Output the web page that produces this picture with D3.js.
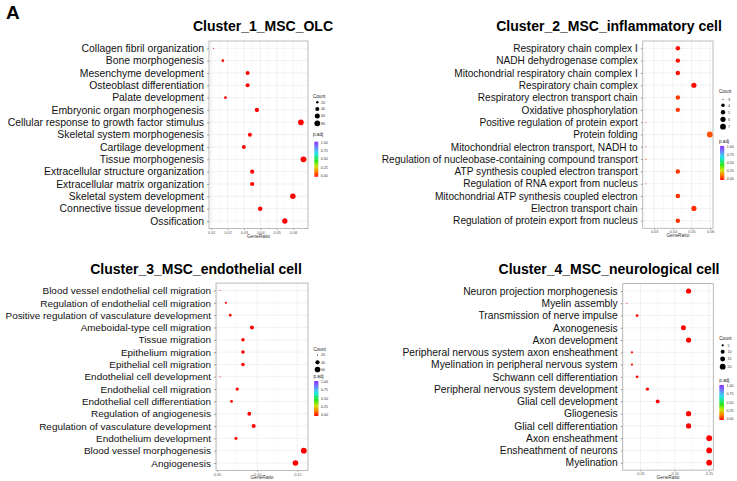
<!DOCTYPE html>
<html><head><meta charset="utf-8">
<script src="https://cdn.jsdelivr.net/npm/d3@7"></script>
<style>
body{margin:0;background:#fff;}
svg{display:block;font-family:"Liberation Sans",Arial,sans-serif;}
</style></head>
<body><svg id="chart" width="737" height="481"></svg>
<script>
// ---------- DATA ----------
const c1Terms = ["Collagen fibril organization","Bone morphogenesis","Mesenchyme development","Osteoblast differentiation","Palate development","Embryonic organ morphogenesis","Cellular response to growth factor stimulus","Skeletal system morphogenesis","Cartilage development","Tissue morphogenesis","Extracellular structure organization","Extracellular matrix organization","Skeletal system development","Connective tissue development","Ossification"];
const c1Ratio = [0.0114,0.0171,0.0322,0.0322,0.0187,0.0379,0.0647,0.0336,0.0299,0.0663,0.0350,0.0350,0.0598,0.0399,0.0549];
const c1Count = [14,21,39,39,22,45,78,40,36,80,42,42,72,48,66];
const c1Padj  = [0.01,0.005,0,0,0.01,0,0,0,0,0,0,0,0,0,0];
const c1Ticks = [0.01,0.02,0.03,0.04,0.05,0.06];
const c1CountBreaks = [20,40,60,80];

const c2Terms = ["Respiratory chain complex I","NADH dehydrogenase complex","Mitochondrial respiratory chain complex I","Respiratory chain complex","Respiratory electron transport chain","Oxidative phosphorylation","Positive regulation of protein export","Protein folding","Mitochondrial electron transport, NADH to","Regulation of nucleobase-containing compound transport","ATP synthesis coupled electron transport","Regulation of RNA export from nucleus","Mitochondrial ATP synthesis coupled electron","Electron transport chain","Regulation of protein export from nucleus"];
const c2Ratio = [0.0427,0.0427,0.0427,0.0513,0.0427,0.0427,0.0256,0.0598,0.0256,0.0256,0.0427,0.0256,0.0427,0.0513,0.0427];
const c2Count = [5,5,5,6,5,5,3,7,3,3,5,3,5,6,5];
const c2Padj  = [0.015,0.015,0.015,0.01,0.06,0.06,0.09,0.09,0.09,0.09,0.055,0.09,0.055,0.05,0.055];
const c2Ticks = [0.03,0.04,0.05,0.06];
const c2CountBreaks = [3,4,5,6,7];

const c3Terms = ["Blood vessel endothelial cell migration","Regulation of endothelial cell migration","Positive regulation of vasculature development","Ameboidal-type cell migration","Tissue migration","Epithelium migration","Epithelial cell migration","Endothelial cell development","Endothelial cell migration","Endothelial cell differentiation","Regulation of angiogenesis","Regulation of vasculature development","Endothelium development","Blood vessel morphogenesis","Angiogenesis"];
const c3Ratio = [0.054,0.0611,0.0665,0.0935,0.0823,0.0823,0.0823,0.054,0.0752,0.0681,0.0902,0.0956,0.0736,0.158,0.1476];
const c3Count = [22,24,27,37,33,33,33,22,30,27,36,38,29,63,59];
const c3Padj  = [0.03,0.01,0.01,0,0,0,0,0.03,0,0.01,0,0,0.01,0,0];
const c3Ticks = [0.05,0.10,0.15];
const c3CountBreaks = [20,40,60];

const c4Terms = ["Neuron projection morphogenesis","Myelin assembly","Transmission of nerve impulse","Axonogenesis","Axon development","Peripheral nervous system axon ensheathment","Myelination in peripheral nervous system","Schwann cell differentiation","Peripheral nervous system development","Glial cell development","Gliogenesis","Glial cell differentiation","Axon ensheathment","Ensheathment of neurons","Myelination"];
const c4Ratio = [0.1203,0.0301,0.0451,0.1128,0.1203,0.0376,0.0376,0.0451,0.0602,0.0752,0.1203,0.1203,0.1504,0.1504,0.1504];
const c4Count = [16,4,6,15,16,5,5,6,8,10,16,16,20,20,20];
const c4Padj  = [0,0.02,0.01,0,0,0.01,0.01,0.01,0,0,0,0,0,0,0];
const c4Ticks = [0.05,0.10,0.15];
const c4CountBreaks = [5,10,15,20];

const padjTicks = [0,0.25,0.5,0.75,1];

// ---------- LAYOUT ----------
const panels = [
  {title:"Cluster_1_MSC_OLC", tx:263, ty:31, fs:10.4, terms:c1Terms, ratio:c1Ratio, count:c1Count, padj:c1Padj, ticks:c1Ticks, breaks:c1CountBreaks,
   x0:209, x1:308, y0:48.3, y1:221, top:41, bot:228.6,
   leg:{x:313, ct:96, ey:[102.3,109,116,123.3], dx:317.3, lx:321, pt:134, bx:314.3, bw:4, by0:141.7, by1:176.7}},
  {title:"Cluster_2_MSC_inflammatory cell", tx:609, ty:31, fs:10.1, terms:c2Terms, ratio:c2Ratio, count:c2Count, padj:c2Padj, ticks:c2Ticks, breaks:c2CountBreaks,
   x0:642.7, x1:713, y0:48.3, y1:220.7, top:41, bot:228.3,
   leg:{x:719, ct:91, ey:[99.3,105.3,112.3,119.3,126.7], dx:723, lx:728, pt:141, bx:720, bw:4.3, by0:146, by1:180}},
  {title:"Cluster_3_MSC_endothelial cell", tx:196, ty:274, fs:9.95, terms:c3Terms, ratio:c3Ratio, count:c3Count, padj:c3Padj, ticks:c3Ticks, breaks:c3CountBreaks,
   x0:216, x1:308, y0:290.5, y1:463, top:283.1, bot:470.4,
   leg:{x:313.5, ct:349, ey:[355,362.3,369.5], dx:317.5, lx:321, pt:376, bx:314, bw:4.5, by0:381, by1:416}},
  {title:"Cluster_4_MSC_neurological cell", tx:609, ty:274, fs:10.3, terms:c4Terms, ratio:c4Ratio, count:c4Count, padj:c4Padj, ticks:c4Ticks, breaks:c4CountBreaks,
   x0:622.7, x1:713.3, y0:291, y1:462.7, top:283.6, bot:470.1,
   leg:{x:719.3, ct:338.3, ey:[345.3,351.7,359,366.7], dx:722.7, lx:727.5, pt:380, bx:719.3, bw:4.7, by0:385, by1:420}}
];

const svg = d3.select("#chart");
svg.append("rect").attr("width",737).attr("height",481).attr("fill","#fff");

// colour scale for p.adj
const colStops = [[0,"#FF0000"],[0.14,"#FF8000"],[0.3,"#C8E600"],[0.46,"#22E622"],[0.66,"#22E6E6"],[0.83,"#6E8CFF"],[1,"#8A2BFF"]];
const color = d3.scaleLinear().domain(colStops.map(d=>d[0])).range(colStops.map(d=>d[1])).interpolate(d3.interpolateRgb).clamp(true);

const defs = svg.append("defs");
const grad = defs.append("linearGradient").attr("id","padjGrad").attr("x1",0).attr("y1",1).attr("x2",0).attr("y2",0);
colStops.forEach(s=>grad.append("stop").attr("offset",s[0]).attr("stop-color",s[1]));

// "A"
svg.append("text").attr("x",6).attr("y",19).attr("font-size",19).attr("font-weight","bold").text("A");

panels.forEach(p=>{
  const g = svg.append("g");
  const mn = d3.min(p.ratio), mx = d3.max(p.ratio), ex = (mx-mn)*0.05;
  const x = d3.scaleLinear().domain([mn-ex, mx+ex]).range([p.x0, p.x1]);
  const y = d3.scalePoint().domain(p.terms).range([p.y0, p.y1]);
  const cmn = d3.min(p.count), cmx = d3.max(p.count);
  const rmin = 0.55, rmax = 2.9;
  const r = c => rmin + (rmax-rmin)*Math.sqrt(Math.max(0,(c-cmn))/(cmx-cmn));

  // panel background
  g.append("rect").attr("x",p.x0).attr("y",p.top).attr("width",p.x1-p.x0).attr("height",p.bot-p.top).attr("fill","#fff");
  // minor grid
  const step = p.ticks[1]-p.ticks[0];
  const minor = [];
  for (let v = p.ticks[0]-step/2; v <= p.ticks[p.ticks.length-1]+step/2+1e-9; v += step) minor.push(v);
  g.selectAll(".mng").data(minor.filter(v=>x(v)>p.x0 && x(v)<p.x1)).join("line")
    .attr("x1",d=>x(d)).attr("x2",d=>x(d)).attr("y1",p.top).attr("y2",p.bot)
    .attr("stroke","#f2f2f2").attr("stroke-width",0.5);
  // major grid
  g.selectAll(".mjg").data(p.ticks).join("line")
    .attr("x1",d=>x(d)).attr("x2",d=>x(d)).attr("y1",p.top).attr("y2",p.bot)
    .attr("stroke","#e8e8e8").attr("stroke-width",0.6);
  g.selectAll(".hg").data(p.terms).join("line")
    .attr("x1",p.x0).attr("x2",p.x1).attr("y1",d=>y(d)).attr("y2",d=>y(d))
    .attr("stroke","#e8e8e8").attr("stroke-width",0.6);

  // axes
  const ax = g.append("g").attr("transform",`translate(0,${p.bot})`)
    .call(d3.axisBottom(x).tickValues(p.ticks).tickSize(1.5).tickPadding(1).tickFormat(d3.format(".2f")));
  ax.select(".domain").remove();
  ax.selectAll("line").attr("stroke","#555").attr("stroke-width",0.5);
  ax.selectAll("text").attr("font-size",3.8).attr("fill","#555").attr("font-family","Liberation Sans, Arial, sans-serif");

  const ay = g.append("g").attr("transform",`translate(${p.x0},0)`)
    .call(d3.axisLeft(y).tickSize(1.8).tickPadding(3.2));
  ay.select(".domain").remove();
  ay.selectAll("line").attr("stroke","#444").attr("stroke-width",0.6);
  ay.selectAll("text").attr("font-size",p.fs).attr("fill","#111").attr("font-family","Liberation Sans, Arial, sans-serif");

  // border
  g.append("rect").attr("x",p.x0).attr("y",p.top).attr("width",p.x1-p.x0).attr("height",p.bot-p.top)
    .attr("fill","none").attr("stroke","#aaa").attr("stroke-width",0.8);

  // x label
  g.append("text").attr("x",(p.x0+p.x1)/2).attr("y",p.bot+9).attr("text-anchor","middle")
    .attr("font-size",4.8).attr("fill","#333").text("GeneRatio");

  // points
  const pts = p.terms.map((t,i)=>({t, ratio:p.ratio[i], count:p.count[i], padj:p.padj[i]}));
  g.selectAll(".pt").data(pts).join("circle")
    .attr("cx",d=>x(d.ratio)).attr("cy",d=>y(d.t)).attr("r",d=>r(d.count))
    .attr("fill",d=>color(d.padj));

  // title
  svg.append("text").attr("x",p.tx).attr("y",p.ty).attr("text-anchor","middle")
    .attr("font-size",14).attr("font-weight","bold").attr("fill","#000").text(p.title);

  // legend: Count
  const L = p.leg;
  g.append("text").attr("x",L.x).attr("y",L.ct+1.5).attr("font-size",4.6).attr("fill","#222").text("Count");
  p.breaks.forEach((b,i)=>{
    g.append("circle").attr("cx",L.dx).attr("cy",L.ey[i]).attr("r",r(b)).attr("fill","#000");
    g.append("text").attr("x",L.lx).attr("y",L.ey[i]+1.3).attr("font-size",3.7).attr("fill","#333").text(b);
  });
  // legend: p.adj
  g.append("text").attr("x",L.x).attr("y",L.pt+1.5).attr("font-size",4.6).attr("fill","#222").text("p.adj");
  g.append("rect").attr("x",L.bx).attr("y",L.by0).attr("width",L.bw).attr("height",L.by1-L.by0).attr("fill","url(#padjGrad)");
  const cy = d3.scaleLinear().domain([0,1]).range([L.by1-1, L.by0+1]);
  padjTicks.forEach(v=>{
    g.append("line").attr("x1",L.bx).attr("x2",L.bx+1).attr("y1",cy(v)).attr("y2",cy(v)).attr("stroke","#fff").attr("stroke-width",0.4);
    g.append("line").attr("x1",L.bx+L.bw-1).attr("x2",L.bx+L.bw).attr("y1",cy(v)).attr("y2",cy(v)).attr("stroke","#fff").attr("stroke-width",0.4);
    g.append("text").attr("x",L.bx+L.bw+2.5).attr("y",cy(v)+1.2).attr("font-size",3.6).attr("fill","#333").text(d3.format(".2f")(v));
  });
});
</script></body></html>
